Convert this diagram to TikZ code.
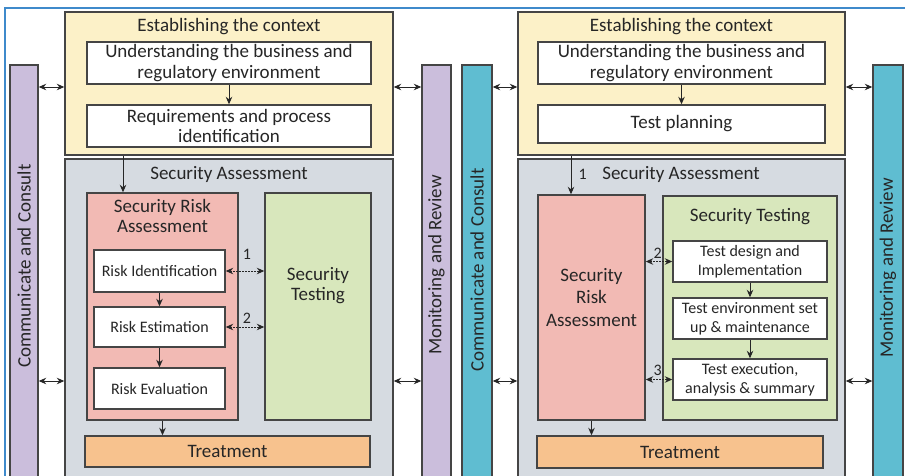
\documentclass[tikz,border=0pt]{standalone}
\usepackage{fontspec}
\setmainfont{Carlito}
\usetikzlibrary{arrows.meta,fit,calc}
\definecolor{edge}{HTML}{454545}
\definecolor{ctxyellow}{HTML}{FCF1C8}
\definecolor{sagray}{HTML}{D6DBE1}
\definecolor{srapink}{HTML}{F2BAB4}
\definecolor{stgreen}{HTML}{D8E7BC}
\definecolor{trorange}{HTML}{F7C28E}
\definecolor{barpurple}{HTML}{CBBEDC}
\definecolor{barteal}{HTML}{5FBDD1}
\definecolor{frameblue}{HTML}{3F8ACB}
\definecolor{ink}{HTML}{262626}
\tikzset{
  frm/.style={draw=edge, line width=1.4pt, inner sep=0pt},
  ctxbox/.style={frm, fill=ctxyellow},
  sabox/.style={frm, fill=sagray},
  srabox/.style={frm, fill=srapink},
  stbox/.style={frm, fill=stgreen},
  trbox/.style={frm, fill=trorange},
  wbox/.style={frm, fill=white},
  pbar/.style={frm, fill=barpurple},
  tbar/.style={frm, fill=barteal},
  big/.style={font=\fontsize{19}{20.5}\selectfont, inner sep=0pt, align=center, text=ink},
  big3/.style={font=\fontsize{19}{22.5}\selectfont, inner sep=0pt, align=center, text=ink},
  small/.style={font=\fontsize{16}{19}\selectfont, inner sep=0pt, align=center, text=ink},
  bartext/.style={font=\fontsize{19}{22}\selectfont, rotate=90, inner sep=0pt, text=ink},
  num/.style={font=\fontsize{16}{18}\selectfont, inner sep=0pt, text=ink},
  tip/.tip={Stealth[length=7.5pt,width=6.5pt]},
  arr/.style={-tip, line width=1pt, draw=ink},
  darr/.style={tip-tip, line width=1pt, draw=ink},
  ddarr/.style={darr, dash pattern=on 1.5pt off 1.5pt},
}
\begin{document}
\begin{tikzpicture}[x=1pt,y=-1pt]
\useasboundingbox (0,0) rectangle (905,475);
\clip (0,0) rectangle (905,475);
\fill[white] (0,0) rectangle (905,475);
% outer frame
\draw[frameblue, line width=1.3pt] (5,490) -- (5,8) -- (910,8);

% ================= LEFT PANEL =================
\node[pbar, fit={(10,65)(38,490)}] (Lcc) {};
\node[bartext] (Lcct) at (24,266) {Communicate and Consult};
\node[pbar, fit={(422,65)(451,490)}] (Lmr) {};
\node[bartext] (Lmrt) at (436.5,265) {Monitoring and Review};

\node[ctxbox, fit={(65,12)(393,155)}] (Lctx) {};
\node[big] (Lctxt) at (229,27) {Establishing the context};
\node[wbox, fit={(87,42)(371,84)}, label={[big]center:Understanding the business and\\regulatory environment}] (Lu) {};
\node[wbox, fit={(87,105)(371,147)}, label={[big]center:Requirements and process\\identification}] (Lreq) {};

\node[sabox, fit={(65,159)(393,490)}] (Lsa) {};
\node[big] (Lsat) at (229,174) {Security Assessment};
\node[srabox, fit={(87,193)(238,420)}] (Lsra) {};
\node[big] (Lsrat) at (162.5,216) {Security Risk\\Assessment};
\node[wbox, fit={(94,250)(225,292)}, label={[small]center:Risk Identification}] (Lri) {};
\node[wbox, fit={(94,307)(225,347)}, label={[small]center:Risk Estimation}] (Lre) {};
\node[wbox, fit={(94,368)(225,409)}, label={[small]center:Risk Evaluation}] (Lrv) {};
\node[stbox, fit={(265,193)(371,420)}, label={[big, yshift=21pt]center:Security\\Testing}] (Lst) {};
\node[trbox, fit={(85,436)(370,467)}, label={[big]center:Treatment}] (Ltr) {};

\draw[arr] (Lu) -- (Lreq);
\draw[arr] (Lctx.south -| 123,0) -- (Lsra.north -| 123,0);
\draw[arr] (Lri) -- (Lre);
\draw[arr] (Lre) -- (Lrv);
\draw[arr] (Lsra.south) -- (Lsra.south |- Ltr.north);
\draw[ddarr] (Lri.east) -- (Lri.east -| Lst.west) node[num, pos=0.55, above=11pt] {1};
\draw[ddarr] (Lre.east) -- (Lre.east -| Lst.west) node[num, pos=0.55, above=3pt] {2};
\draw[darr] (Lcc.east |- 0,87) -- (Lctx.west |- 0,87);
\draw[darr] (Lctx.east |- 0,87) -- (Lmr.west |- 0,87);
\draw[darr] (Lcc.east |- 0,381) -- (Lsa.west |- 0,381);
\draw[darr] (Lsa.east |- 0,381) -- (Lmr.west |- 0,381);

% ================= RIGHT PANEL =================
\node[tbar, fit={(462,65)(492,490)}] (Rcc) {};
\node[bartext] (Rcct) at (477,270) {Communicate and Consult};
\node[tbar, fit={(873,65)(903,490)}] (Rmr) {};
\node[bartext] (Rmrt) at (888,268) {Monitoring and Review};

\node[ctxbox, fit={(518,12)(845,155)}] (Rctx) {};
\node[big] (Rctxt) at (681.5,27) {Establishing the context};
\node[wbox, fit={(538,42)(825,84)}, label={[big]center:Understanding the business and\\regulatory environment}] (Ru) {};
\node[wbox, fit={(538,105)(825,143)}, label={[big]center:Test planning}] (Rtp) {};

\node[sabox, fit={(518,159)(845,490)}] (Rsa) {};
\node[big] (Rsat) at (681,174) {Security Assessment};
\node[srabox, fit={(538,195)(645,420)}, label={[big3, yshift=10pt]center:Security\\Risk\\Assessment}] (Rsra) {};
\node[stbox, fit={(663,196)(837,420)}] (Rst) {};
\node[big] (Rstt) at (750,217) {Security Testing};
\node[wbox, fit={(673,241)(827,282)}, label={[small]center:Test design and\\Implementation}] (Rtd) {};
\node[wbox, fit={(673,298)(827,339)}, label={[small]center:Test environment set\\up \& maintenance}] (Rte) {};
\node[wbox, fit={(673,359)(827,400)}, label={[small]center:Test execution,\\analysis \& summary}] (Rtx) {};
\node[trbox, fit={(537,436)(823,468)}, label={[big]center:Treatment}] (Rtr) {};

\draw[arr] (Ru) -- (Rtp);
\draw[arr] (Rctx.south -| 571,0) -- (Rsra.north -| 571,0) node[num, pos=0.48, right=7pt] {1};
\draw[arr] (Rtd) -- (Rte);
\draw[arr] (Rte) -- (Rtx);
\draw[arr] (Rsra.south) -- (Rsra.south |- Rtr.north);
\draw[ddarr] (Rsra.east |- Rtd.west) -- (Rtd.west) node[num, pos=0.45, above=3pt] {2};
\draw[ddarr] (Rsra.east |- Rtx.west) -- (Rtx.west) node[num, pos=0.45, above=3pt] {3};
\draw[darr] (Rcc.east |- 0,87) -- (Rctx.west |- 0,87);
\draw[darr] (Rctx.east |- 0,87) -- (Rmr.west |- 0,87);
\draw[darr] (Rcc.east |- 0,381) -- (Rsa.west |- 0,381);
\draw[darr] (Rsa.east |- 0,381) -- (Rmr.west |- 0,381);
\end{tikzpicture}
\end{document}
